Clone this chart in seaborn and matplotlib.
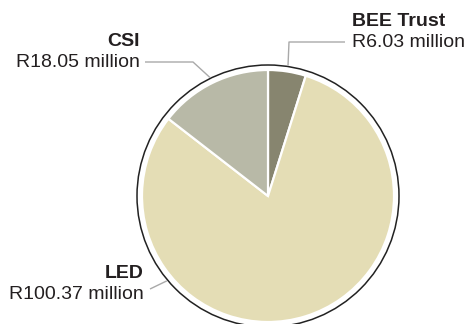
import numpy as np
import matplotlib
matplotlib.use("Agg")
import matplotlib.pyplot as plt
from matplotlib.patches import Circle
import seaborn as sns

# Funding split (R million), drawn clockwise from 12 o'clock
categories = ["BEE Trust", "LED", "CSI"]
values = [6.03, 100.37, 18.05]
value_labels = ["R6.03 million", "R100.37 million", "R18.05 million"]
colors = ["#87856f", "#e4ddb5", "#b8b9a7"]

sns.set_theme(style="white")
plt.rcParams["font.family"] = ["Liberation Sans", "DejaVu Sans"]

W, H = 465, 324
fig = plt.figure(figsize=(W / 100, H / 100), dpi=100)
ax = fig.add_axes([0, 0, 1, 1])

cx, cy, r = 268, H - 196, 126
wedges, _ = ax.pie(values, colors=colors, startangle=90, counterclock=False,
                   center=(cx, cy), radius=r, frame=True,
                   wedgeprops=dict(edgecolor="white", linewidth=1.6))
ax.set_xlim(0, W)
ax.set_ylim(0, H)
ax.axis("off")

# thin outer ring
ax.add_patch(Circle((cx, cy), r + 5, fill=False, edgecolor="#222222", linewidth=1.1))

ring = r + 6
line_kw = dict(color="#a9a9a9", linewidth=1.0, solid_capstyle="butt")


def rim(angle_deg):
    a = np.deg2rad(angle_deg)
    return cx + ring * np.cos(a), cy + ring * np.sin(a)


def mid(w):
    return 0.5 * (w.theta1 + w.theta2)


# BEE Trust leader
ex, ey = rim(mid(wedges[0]))
ax.plot([345, 289, ex], [H - 42, H - 42, ey], **line_kw)
# CSI leader
ex, ey = rim(mid(wedges[2]))
ax.plot([145, 193, ex], [H - 62, H - 62, ey], **line_kw)
# LED leader
ex, ey = rim(220)
ax.plot([150, ex], [H - 289, ey], **line_kw)

fs = 14.0
tc = "#231f20"
ax.text(352, H - 26.5, categories[0], fontsize=fs, fontweight="bold", color=tc,
        ha="left", va="baseline")
ax.text(352, H - 47, value_labels[0], fontsize=fs, color=tc, ha="left", va="baseline")

ax.text(140, H - 46.5, categories[2], fontsize=fs, fontweight="bold", color=tc,
        ha="right", va="baseline")
ax.text(140, H - 67, value_labels[2], fontsize=fs, color=tc, ha="right", va="baseline")

ax.text(143.5, H - 278, categories[1], fontsize=fs, fontweight="bold", color=tc,
        ha="right", va="baseline")
ax.text(143.5, H - 299, value_labels[1], fontsize=fs, color=tc, ha="right", va="baseline")

fig.savefig("out.png", dpi=100)
